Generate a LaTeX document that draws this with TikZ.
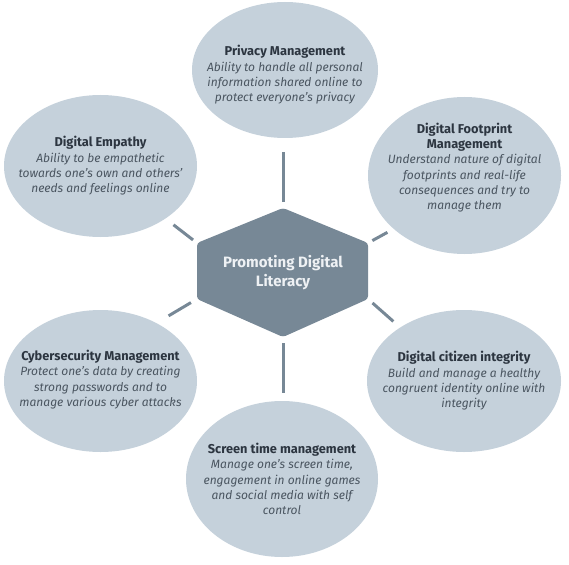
\documentclass[tikz,border=0pt]{standalone}
\usepackage{fontspec}
\setmainfont{Fira Sans}
\usetikzlibrary{shapes.geometric}

\definecolor{bubblefill}{HTML}{C5D1DB}
\definecolor{hubfill}{HTML}{778896}
\definecolor{headcol}{HTML}{2C3540}
\definecolor{bodycol}{HTML}{4A5560}
\definecolor{hubtextcol}{HTML}{EEF1F4}

\tikzset{
  bubble/.style={ellipse, fill=bubblefill, inner sep=0pt},
  bubbletext/.style={align=center, text=bodycol, font=\fontsize{12}{15.3}\selectfont\itshape},
  link/.style={line width=3pt, draw=hubfill},
}

\begin{document}
\begin{tikzpicture}[x=1pt,y=-1pt]

    \useasboundingbox (0,0) rectangle (569,564);

    % Draw the six bubbles
    \node[bubble, minimum width=186pt, minimum height=136pt] (privacy) at (285,70) {};
    \node[bubble, minimum width=193pt, minimum height=142pt] (empathy) at (100.5,166) {};
    \node[bubble, minimum width=193pt, minimum height=157pt] (footprint) at (464.5,175.5) {};
    \node[bubble, minimum width=193pt, minimum height=142pt] (cyber) at (100.5,381) {};
    \node[bubble, minimum width=194pt, minimum height=142pt] (integrity) at (464,381) {};
    \node[bubble, minimum width=192pt, minimum height=156pt] (screen) at (282,479) {};

    % Draw the hexagon in the middle
    \coordinate (hub-n) at (283,208);
    \coordinate (hub-ne) at (368,243);
    \coordinate (hub-se) at (368,299);
    \coordinate (hub-s) at (283,337);
    \coordinate (hub-sw) at (197,299);
    \coordinate (hub-nw) at (197,243);
    \fill[hubfill, rounded corners=3pt] (hub-n) -- (hub-ne) -- (hub-se) -- (hub-s) -- (hub-sw) -- (hub-nw) -- cycle;
    \node[align=center, text=hubtextcol, font=\fontsize{15}{19}\selectfont\bfseries] (hub) at (283,272.5) {Promoting Digital\\Literacy};

    % Draw the links
    \draw[link, shorten <=6pt, shorten >=14pt] (hub-n) -- (hub-n |- privacy.south);
    \draw[link, shorten <=6pt, shorten >=8pt] (hub-s) -- (hub-s |- screen.north);
    \draw[link, shorten <=5pt, shorten >=10pt] (hub-nw) -- (empathy.-39);
    \draw[link, shorten <=5pt, shorten >=7pt] (hub-ne) -- (footprint.217);
    \draw[link, shorten <=7pt, shorten >=14pt] (hub-sw) -- (cyber.46);
    \draw[link, shorten <=6pt, shorten >=9pt] (hub-se) -- (integrity.140);

    % Bubble texts
    \node[bubbletext, yshift=-5pt] (privacy-txt) at (privacy.center)
        {{\fontsize{12.8}{15.3}\selectfont\bfseries\upshape\color{headcol}Privacy Management}\\Ability to handle all personal\\information shared online to\\protect everyone's privacy};
    \node[bubbletext] (empathy-txt) at (empathy.center)
        {{\fontsize{12.8}{15.3}\selectfont\bfseries\upshape\color{headcol}Digital Empathy}\\Ability to be empathetic\\towards one's own and others'\\needs and feelings online};
    \node[bubbletext, yshift=8pt] (footprint-txt) at (footprint.center)
        {{\fontsize{12.8}{15.3}\selectfont\bfseries\upshape\color{headcol}Digital Footprint}\\{\fontsize{12.8}{15.3}\selectfont\bfseries\upshape\color{headcol}Management}\\Understand nature of digital\\footprints and real-life\\consequences and try to\\manage them};
    \node[bubbletext, yshift=1.5pt] (cyber-txt) at (cyber.center)
        {{\fontsize{12.8}{15.3}\selectfont\bfseries\upshape\color{headcol}Cybersecurity Management}\\Protect one's data by creating\\strong passwords and to\\manage various cyber attacks};
    \node[bubbletext] (integrity-txt) at (integrity.center)
        {{\fontsize{12.8}{15.3}\selectfont\bfseries\upshape\color{headcol}Digital citizen integrity}\\Build and manage a healthy\\congruent identity online with\\integrity};
    \node[bubbletext] (screen-txt) at (screen.center)
        {{\fontsize{12.8}{15.3}\selectfont\bfseries\upshape\color{headcol}Screen time management}\\Manage one's screen time,\\engagement in online games\\and social media with self\\control};

\end{tikzpicture}
\end{document}
